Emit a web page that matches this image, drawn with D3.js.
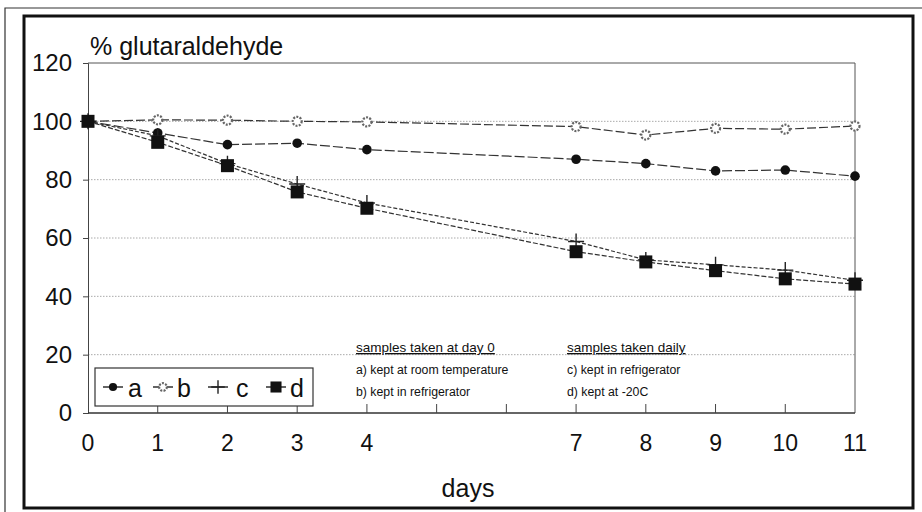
<!DOCTYPE html>
<html>
<head>
<meta charset="utf-8">
<script src="https://cdn.jsdelivr.net/npm/d3@7"></script>
<style>
body { margin: 0; background: #fff; }
text { font-family: "Liberation Sans", Arial, sans-serif; fill: #111; }
</style>
</head>
<body>
<script>
// days on which samples were measured
var days = [0, 1, 2, 3, 4, 7, 8, 9, 10, 11];

// % glutaraldehyde left
var seriesA = [100, 96, 92, 92.5, 90.3, 87, 85.5, 83, 83.3, 81.2]; // room temperature
var seriesB = [100, 100.5, 100.4, 100, 99.8, 98.2, 95.3, 97.6, 97.3, 98.4]; // refrigerator, day 0
var seriesC = [100, 95, 85.5, 78.5, 72, 58.8, 52.5, 50.8, 49, 45.5]; // refrigerator, daily
var seriesD = [100, 92.8, 84.8, 75.8, 70.2, 55.3, 51.8, 48.8, 46, 44.2]; // -20C

var yTicks = [0, 20, 40, 60, 80, 100, 120];
var xLabels = [0, 1, 2, 3, 4, 7, 8, 9, 10, 11];
var xInnerTicks = [1, 2, 3, 4, 5, 6, 7, 8, 9, 10];
var gridVals = [20, 40, 60, 80, 100];

var legendKeys = ["a", "b", "c", "d"];
var notesLeft = ["samples taken at day 0", "a) kept at room temperature", "b) kept in refrigerator"];
var notesRight = ["samples taken daily", "c) kept in refrigerator", "d) kept at -20C"];

var w = 922, h = 512;
var pLeft = 88, pRight = 855, pTop = 63, pBottom = 413; // plot box

var svg = d3.select("body").append("svg")
	.attr("width", w)
	.attr("height", h);

var x = d3.scaleLinear().domain([0, 11]).range([pLeft, pRight]);
var y = d3.scaleLinear().domain([0, 120]).range([pBottom, pTop]);

// frames round the whole figure
svg.append("path")
	.attr("d", "M5," + h + "V8H" + w)
	.attr("fill", "none").attr("stroke", "#333").attr("stroke-width", 1.2);
svg.append("rect")
	.attr("x", 24).attr("y", 16).attr("width", 889).attr("height", 492)
	.attr("fill", "none").attr("stroke", "#111").attr("stroke-width", 3);

// dotted grid
svg.selectAll("line.grid").data(gridVals).enter().append("line")
	.attr("class", "grid")
	.attr("x1", pLeft).attr("x2", pRight)
	.attr("y1", function(d){ return y(d); })
	.attr("y2", function(d){ return y(d); })
	.attr("stroke", "#aaa").attr("stroke-width", 1).attr("stroke-dasharray", "1.5,1.5");

// plot frame top and right
svg.append("path")
	.attr("d", "M" + pLeft + "," + pTop + "H" + pRight + "V" + pBottom)
	.attr("fill", "none").attr("stroke", "#555").attr("stroke-width", 1);

// y axis
var yAxis = d3.axisLeft(y).tickValues(yTicks).tickSize(5).tickPadding(11);
var gy = svg.append("g").attr("transform", "translate(" + pLeft + ",0)").call(yAxis);
gy.select(".domain").attr("stroke", "#444");
gy.selectAll(".tick line").attr("stroke", "#444");
gy.selectAll("text").attr("font-size", "24px").attr("fill", "#111")
	.attr("font-family", "Liberation Sans, Arial, sans-serif");

// x axis: line with ticks pointing up, labels below
svg.append("line")
	.attr("x1", pLeft).attr("x2", pRight).attr("y1", pBottom).attr("y2", pBottom)
	.attr("stroke", "#333").attr("stroke-width", 1.5);
svg.selectAll("line.xt").data(xInnerTicks).enter().append("line")
	.attr("class", "xt")
	.attr("x1", function(d){ return x(d); }).attr("x2", function(d){ return x(d); })
	.attr("y1", pBottom).attr("y2", pBottom - 9)
	.attr("stroke", "#444").attr("stroke-width", 1);
svg.selectAll("text.xl").data(xLabels).enter().append("text")
	.attr("class", "xl")
	.attr("x", function(d){ return x(d); })
	.attr("y", 451)
	.attr("text-anchor", "middle")
	.attr("font-size", "23px")
	.text(function(d){ return d; });

svg.append("text").attr("x", 468).attr("y", 497).attr("text-anchor", "middle")
	.attr("font-size", "25px").text("days");
svg.append("text").attr("x", 90).attr("y", 55)
	.attr("font-size", "25px").text("% glutaraldehyde");

// series lines
var series = [
	{key: "a", vals: seriesA, dash: "10,3"},
	{key: "b", vals: seriesB, dash: "9,3"},
	{key: "c", vals: seriesC, dash: "4,2"},
	{key: "d", vals: seriesD, dash: "5,2"}
];

var line = d3.line()
	.x(function(d){ return x(d[0]); })
	.y(function(d){ return y(d[1]); });

series.forEach(function(s){
	svg.append("path")
		.datum(days.map(function(d, i){ return [d, s.vals[i]]; }))
		.attr("d", line)
		.attr("fill", "none")
		.attr("stroke", "#333")
		.attr("stroke-width", 1.2)
		.attr("stroke-dasharray", s.dash);
});

// marker drawing
function marker(g, key, cx, cy, scale) {
	scale = scale || 1;
	if (key == "a") {
		g.append("circle").attr("cx", cx).attr("cy", cy).attr("r", 4.8 * scale).attr("fill", "#111");
	} else if (key == "b") {
		g.append("circle").attr("cx", cx).attr("cy", cy).attr("r", 4.5 * scale)
			.attr("fill", "#fff").attr("stroke", "#666").attr("stroke-width", 2.2)
			.attr("stroke-dasharray", "2,1.3");
	} else if (key == "c") {
		var s = 8 * scale;
		g.append("path").attr("d", "M" + (cx - s) + "," + cy + "H" + (cx + s) + "M" + cx + "," + (cy - s) + "V" + (cy + s))
			.attr("stroke", "#222").attr("stroke-width", 1.4);
	} else {
		var q = 6.5 * scale;
		g.append("rect").attr("x", cx - q).attr("y", cy - q).attr("width", 2 * q).attr("height", 2 * q).attr("fill", "#111");
	}
}

var marks = svg.append("g");
series.forEach(function(s){
	days.forEach(function(d, i){
		marker(marks, s.key, x(d), y(s.vals[i]));
	});
});

// legend box
var lg = svg.append("g");
lg.append("rect").attr("x", 95).attr("y", 368).attr("width", 218).attr("height", 38)
	.attr("fill", "#fff").attr("stroke", "#333").attr("stroke-width", 1.2);
var legMark = [113, 163, 218, 276];
var legText = [128, 177, 236, 290];
legendKeys.forEach(function(k, i){
	lg.append("line").attr("x1", legMark[i] - 10).attr("x2", legMark[i] + 10).attr("y1", 387).attr("y2", 387)
		.attr("stroke", "#222").attr("stroke-width", 1.4);
	marker(lg, k, legMark[i], 387, 0.85);
	lg.append("text").attr("x", legText[i]).attr("y", 397)
		.attr("font-size", "25px").text(k);
});

// notes
function notes(arr, nx) {
	arr.forEach(function(t, i){
		svg.append("text").attr("x", nx).attr("y", 352 + i * 22)
			.attr("font-size", i == 0 ? "13.5px" : "12.3px")
			.attr("text-decoration", i == 0 ? "underline" : null)
			.text(t);
	});
}
notes(notesLeft, 356);
notes(notesRight, 567);
</script>
</body>
</html>
